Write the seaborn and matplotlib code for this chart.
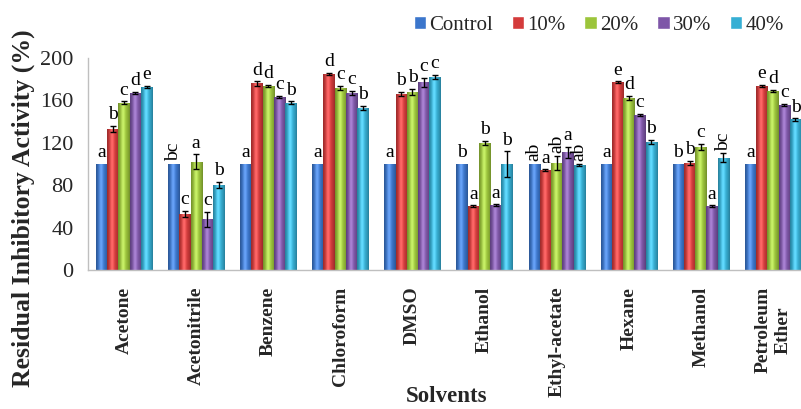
import numpy as np
import pandas as pd
import matplotlib
matplotlib.use("Agg")
import matplotlib.pyplot as plt
import seaborn as sns
from matplotlib.colors import to_rgb

# ---- data -------------------------------------------------------------
solvents = ["Acetone", "Acetonitrile", "Benzene", "Chloroform", "DMSO",
            "Ethanol", "Ethyl-acetate", "Hexane", "Methanol", "Petroleum\nEther"]
levels = ["Control", "10%", "20%", "30%", "40%"]

control = [100, 100, 100, 100, 100, 100, 100, 100, 100, 100]
pct10 = [133, 53, 176, 185, 166, 60, 94, 177, 101, 174]
pct20 = [158, 102, 174, 172, 168, 120, 101, 162, 116, 169]
pct30 = [167, 48, 163, 167, 177, 61, 111, 146, 60, 156]
pct40 = [173, 80, 158, 153, 182, 100, 99, 121, 106, 142]

err_control = [0, 0, 0, 0, 0, 0, 0, 0, 0, 0]
err10 = [3, 3, 2, 1, 2, 1, 1, 1, 2, 1]
err20 = [1, 7, 1, 2, 3, 2, 7, 2, 3, 1]
err30 = [1, 7, 1, 2, 4, 1, 5, 1, 1, 1]
err40 = [1, 3, 1, 2, 2, 12, 1, 2, 4, 1]

let_control = ["a", "bc", "a", "a", "a", "b", "ab", "a", "b", "a"]
let10 = ["b", "c", "d", "d", "b", "a", "a", "e", "b", "e"]
let20 = ["c", "a", "d", "c", "b", "b", "ab", "d", "c", "d"]
let30 = ["d", "c", "c", "c", "c", "a", "a", "c", "a", "c"]
let40 = ["e", "b", "b", "b", "c", "b", "ab", "b", "bc", "b"]

colors = ["#3b76cc", "#d43b3b", "#9cc53b", "#7e56a8", "#36afd4"]

series = [control, pct10, pct20, pct30, pct40]
errors = [err_control, err10, err20, err30, err40]
letters = [let_control, let10, let20, let30, let40]

df = pd.DataFrame({
    "Solvent": np.tile(solvents, len(levels)),
    "Level": np.repeat(levels, len(solvents)),
    "Value": np.concatenate(series),
})

# ---- figure -----------------------------------------------------------
sns.set_style("white")
plt.rcParams["font.family"] = ["Liberation Serif", "DejaVu Serif"]

fig = plt.figure(figsize=(8.01, 4.09), dpi=100)
ax = fig.add_axes([88 / 801, 1 - 270 / 409, 721 / 801, 212 / 409])

sns.barplot(data=df, x="Solvent", y="Value", hue="Level", order=solvents,
            hue_order=levels, palette=colors, saturation=1, errorbar=None,
            width=0.78, ax=ax)

ax.set_ylim(0, 200)
ax.set_xlim(-0.5, len(solvents) - 0.5)
xlim, ylim = ax.get_xlim(), ax.get_ylim()

# shaded, cylinder-like bars
u = np.linspace(-1, 1, 64)
for cont, col in zip(ax.containers, colors):
    base = np.array(to_rgb(col))
    shade = 1.0 - 0.28 * u ** 2
    light = 0.18 * np.exp(-((u + 0.15) / 0.35) ** 2)
    img = np.clip(base[None, :] * shade[:, None] + light[:, None], 0, 1)[None, :, :]
    for p in cont.patches:
        x0, w, h = p.get_x(), p.get_width(), p.get_height()
        p.set_facecolor("none")
        p.set_edgecolor("none")
        im = ax.imshow(img, extent=[x0, x0 + w, 0, h], aspect="auto",
                       interpolation="bilinear", zorder=2)
        im.set_clip_path(p)
ax.set_xlim(xlim)
ax.set_ylim(ylim)

# error bars and significance letters
for cont, err, labs in zip(ax.containers, errors, letters):
    for p, e, lab in zip(cont.patches, err, labs):
        xc = p.get_x() + p.get_width() / 2
        h = p.get_height()
        if e > 0:
            ax.errorbar(xc, h, yerr=e, fmt="none", ecolor="black",
                        elinewidth=1.0, capsize=2.2, capthick=1.0, zorder=3)
        rot = 90 if len(lab) > 1 else 0
        ax.annotate(lab, (xc, h + e), xytext=(0, 2), textcoords="offset points",
                    ha="center", va="bottom", rotation=rot, fontsize=14,
                    color="black", zorder=4)

# axes styling
for s in ["top", "right"]:
    ax.spines[s].set_visible(False)
for s in ["left", "bottom"]:
    ax.spines[s].set_color("#bfbfbf")
    ax.spines[s].set_linewidth(1.0)
ax.set_yticks(np.arange(0, 201, 40))
ax.tick_params(axis="y", length=4.5, width=1, color="#bfbfbf", labelsize=16, pad=6)
ax.tick_params(axis="x", length=0, pad=12)
for t in ax.get_xticklabels():
    t.set_rotation(90)
    t.set_fontweight("bold")
    t.set_fontsize(14)
    t.set_va("top")
    t.set_ha("center")
    t.set_multialignment("center")

ax.set_ylabel("Residual Inhibitory Activity (%)", fontsize=18.5, fontweight="bold",
              va="center")
ax.yaxis.set_label_coords(-0.0895, 0.29)
ax.set_xlabel("Solvents", fontsize=16.5, fontweight="bold", va="top")
ax.xaxis.set_label_coords(0.498, -0.545)

handles, labels = ax.get_legend_handles_labels()
ax.get_legend().remove()
fig.legend(handles, labels, ncol=5, loc="upper right", bbox_to_anchor=(0.998, 1.0),
           frameon=False, fontsize=15, handlelength=0.6, handleheight=0.6,
           handletextpad=0.15, columnspacing=0.9, borderaxespad=0.35)

fig.savefig("out.png", dpi=100)
